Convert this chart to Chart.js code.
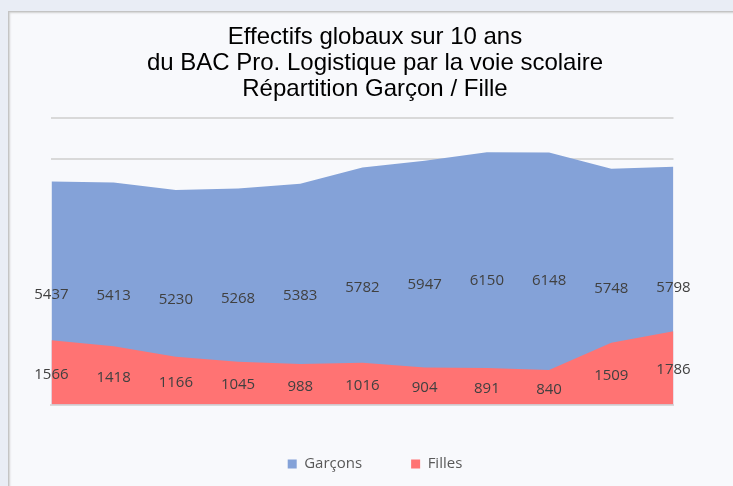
<!DOCTYPE html>
<html>
<head>
<meta charset="utf-8">
<script src="https://cdn.jsdelivr.net/npm/chart.js@4.4.1/dist/chart.umd.min.js"></script>
<style>
  body { margin:0; background:#e9edf5; }
  #panel { position:absolute; left:8px; top:11px; width:740px; height:490px; background:#f8f9fc;
           border-left:1px solid #c4c4c4; border-top:1px solid #c4c4c4; box-shadow:1px 1px 2px #d0d0d0 inset; }
  canvas { position:absolute; left:0; top:0; }
</style>
</head>
<body>
<div id="panel"></div>
<canvas id="myChart" width="733" height="486"></canvas>
<script>
// data
const years = ['2010','2011','2012','2013','2014','2015','2016','2017','2018','2019','2020'];
const garcons = [5437, 5413, 5230, 5268, 5383, 5782, 5947, 6150, 6148, 5748, 5798];
const filles = [1566, 1418, 1166, 1045, 988, 1016, 904, 891, 840, 1509, 1786];
const yMax = 7000;
const yStep = 1000;

const titleLines = ['Effectifs globaux sur 10 ans', 'du BAC Pro. Logistique par la voie scolaire', 'Répartition Garçon / Fille'];

// labels drawn in the middle height of each area, like Excel does
const midLabels = {
  id: 'midLabels',
  afterDatasetsDraw(chart) {
    let ctx = chart.ctx;
    let xs = chart.scales.x, ys = chart.scales.y;
    ctx.save();
    ctx.font = '15px "Open Sans"';
    ctx.fillStyle = '#404040';
    ctx.textAlign = 'center';
    ctx.textBaseline = 'middle';
    chart.data.datasets.forEach(ds => {
      ds.data.forEach((v, i) => {
        ctx.fillText(String(v), xs.getPixelForValue(i), ys.getPixelForValue(v / 2) + 2);
      });
    });
    ctx.restore();
  }
};

const ctx = document.getElementById('myChart');
var myChart = new Chart(ctx, {
  type: 'line',
  data: {
    labels: years,
    datasets: [
      { label: 'Garçons', data: garcons, fill: 'origin', backgroundColor: '#84a2d8',
        borderColor: 'rgba(0,0,0,0)', borderWidth: 0, pointRadius: 0, tension: 0, order: 1 },
      { label: 'Filles', data: filles, fill: 'origin', backgroundColor: '#ff7373',
        borderColor: 'rgba(0,0,0,0)', borderWidth: 0, pointRadius: 0, tension: 0, order: 0 }
    ]
  },
  options: {
    responsive: false,
    animation: false,
    layout: { padding: { left: 17, right: 0, top: 0, bottom: 4.5 } },
    plugins: {
      title: {
        display: true,
        text: titleLines,
        color: '#000',
        font: { family: '"Liberation Sans", Arial, sans-serif', size: 24, weight: 'normal', lineHeight: '26px' },
        padding: { top: 24, bottom: 15.5 }
      },
      legend: {
        position: 'bottom',
        labels: {
          boxWidth: 9, boxHeight: 9, padding: 49, color: '#595959',
          font: { family: '"Open Sans"', size: 15 },
          sort: (a, b) => a.datasetIndex - b.datasetIndex
        }
      },
      tooltip: { enabled: false }
    },
    scales: {
      x: {
        grid: { display: true, color: 'rgba(0,0,0,0)', drawTicks: false },
        border: { display: true, color: '#d9d9d9', width: 2 },
        ticks: { color: '#595959', padding: 14, maxRotation: 0, font: { family: '"Open Sans"', size: 15 } },
        afterFit: s => { s.height = 3; }
      },
      y: {
        min: 0, max: yMax,
        ticks: { display: false, stepSize: yStep },
        // lines under the areas would only peek out at the edges
        grid: { color: c => (c.tick && c.tick.value >= 6000) ? '#d9d9d9' : 'rgba(0,0,0,0)', lineWidth: 2, drawTicks: false },
        border: { display: false },
        afterFit: s => { s.width = 34.4; }
      },
      y2: {
        type: 'linear', position: 'right', display: true, min: 0, max: yMax,
        ticks: { display: false },
        grid: { display: false },
        border: { display: false },
        afterFit: s => { s.width = 59.5; }
      }
    }
  },
  plugins: [midLabels]
});
</script>
</body>
</html>
